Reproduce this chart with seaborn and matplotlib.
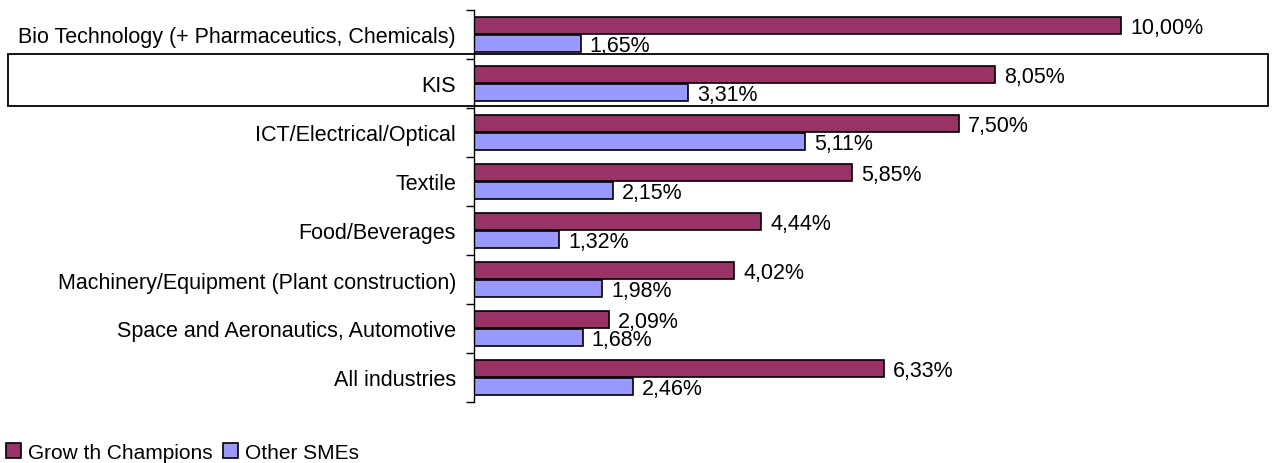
import matplotlib
matplotlib.use("Agg")
import matplotlib.pyplot as plt
from matplotlib.patches import Rectangle, Patch
import numpy as np
import pandas as pd
import seaborn as sns

categories = [
    "Bio Technology (+ Pharmaceutics, Chemicals)",
    "KIS",
    "ICT/Electrical/Optical",
    "Textile",
    "Food/Beverages",
    "Machinery/Equipment (Plant construction)",
    "Space and Aeronautics, Automotive",
    "All industries",
]
growth_champions = [10.00, 8.05, 7.50, 5.85, 4.44, 4.02, 2.09, 6.33]
other_smes = [1.65, 3.31, 5.11, 2.15, 1.32, 1.98, 1.68, 2.46]
series_names = ["Grow th Champions", "Other SMEs"]
series_colors = ["#993366", "#9999FF"]

df = pd.DataFrame({
    "category": categories * 2,
    "value": growth_champions + other_smes,
    "series": [series_names[0]] * len(categories) + [series_names[1]] * len(categories),
})

sns.set_style("white")
plt.rcParams["font.family"] = ["Liberation Sans", "DejaVu Sans"]
plt.rcParams["text.color"] = "black"
plt.rcParams["ytick.color"] = "black"
plt.rcParams["ytick.labelcolor"] = "black"

fig = plt.figure(figsize=(12.73, 4.64), dpi=100)
ax = fig.add_axes([474 / 1273, 1 - 403 / 464, (1262 - 474) / 1273, (403 - 11) / 464])

sns.barplot(
    data=df, y="category", x="value", hue="series", order=categories,
    hue_order=series_names, palette=series_colors, orient="h",
    width=0.72, gap=0.05, edgecolor="black", linewidth=1.2,
    saturation=1, legend=False, ax=ax,
)

ax.set_xlim(0, (1262 - 474) / 64.7)
ax.set_ylim(len(categories) - 0.5, -0.5)
ax.set_xlabel("")
ax.set_ylabel("")
ax.set_xticks([])

# tick marks on category boundaries, labels at category centres
ax.set_yticks(np.arange(len(categories) + 1) - 0.5)
ax.set_yticklabels([])
ax.set_yticks(np.arange(len(categories)), minor=True)
ax.set_yticklabels(categories, minor=True, fontsize=15.5, color="black")
ax.tick_params(axis="y", which="major", direction="out", length=6, width=1, color="black", left=True)
ax.tick_params(axis="y", which="minor", length=0, pad=13)

for side in ["top", "right", "bottom"]:
    ax.spines[side].set_visible(False)
ax.spines["left"].set_color("black")
ax.spines["left"].set_linewidth(1)

for container in ax.containers:
    for bar in container:
        w = bar.get_width()
        ax.text(w + 0.14, bar.get_y() + bar.get_height() / 2 + 0.04,
                f"{w:.2f}%".replace(".", ","), va="center", ha="left",
                fontsize=15.5, color="black")

# frame around the KIS row
fig.add_artist(Rectangle((8 / 1273, 1 - 107 / 464), 1260 / 1273, 52 / 464,
                         transform=fig.transFigure, fill=False,
                         edgecolor="black", linewidth=1.3))

handles = [Patch(facecolor=c, edgecolor="black", linewidth=1.2) for c in series_colors]
fig.legend(handles, series_names, loc="lower left", bbox_to_anchor=(-0.002, -0.016),
           ncol=2, frameon=False, fontsize=15, handlelength=0.75, handleheight=0.75,
           handletextpad=0.3, columnspacing=0.5, borderaxespad=0.0,
           labelcolor="black")

fig.savefig("out.png", dpi=100)
